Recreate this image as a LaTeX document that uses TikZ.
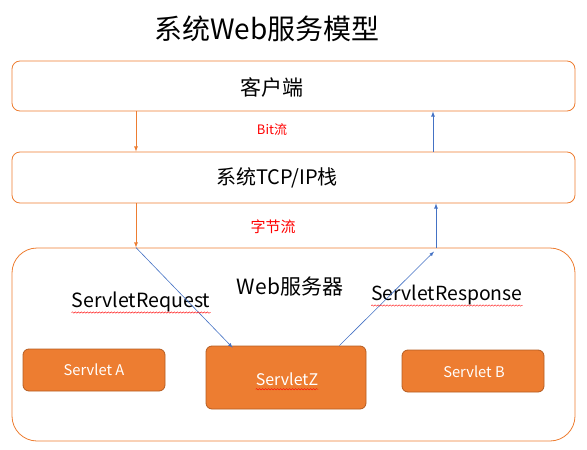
\documentclass[tikz,border=0pt]{standalone}
\usepackage{fontspec}
\setmainfont{Noto Sans CJK SC}
\usetikzlibrary{decorations.pathmorphing}
\definecolor{boxorange}{HTML}{ED7D31}
\definecolor{boxedge}{HTML}{B55D22}
\definecolor{flowblue}{HTML}{4472C4}
\begin{document}
\begin{tikzpicture}[x=1pt, y=-1pt,
            layer/.style={draw=boxorange, line width=0.8pt, rounded corners=8pt, minimum width=563pt, inner sep=0pt},
            servlet/.style={draw=boxedge, line width=0.8pt, fill=boxorange, rounded corners=6pt, inner sep=0pt},
            label/.style={inner sep=0pt},
            down/.style={draw=boxorange, line width=0.8pt, -latex},
            up/.style={draw=flowblue, line width=0.8pt, -latex},
            wavy/.style={draw=red, line width=0.4pt, decorate, decoration={snake, amplitude=0.7pt, segment length=3pt}}
            ]
            \useasboundingbox (0,0) rectangle (587,450);
            \node (title) at (267,29) {\fontsize{28}{32}\selectfont 系统Web服务模型};
            \node[layer, minimum height=50pt] (client) at (293.5,86) {};
            \node[label] (clientname) at (272,87) {\fontsize{21}{24}\selectfont 客户端};
            \node[layer, minimum height=51pt] (tcp) at (293.5,177.5) {};
            \node[label] (tcpname) at (277,178) {\fontsize{20}{24}\selectfont 系统TCP/IP栈};
            \node[layer, minimum height=193pt, rounded corners=25pt] (web) at (293.5,344.5) {};
            \node (bit) at (272,130) {\fontsize{13}{15}\selectfont\color{red} Bit流};
            \node (byte) at (273,227) {\fontsize{15}{18}\selectfont\color{red} 字节流};
            \node (webname) at (290,287) {\fontsize{21}{24}\selectfont Web服务器};

            \node[servlet, minimum width=142pt, minimum height=42pt] (sa) at (94,370) {};
            \node[servlet, minimum width=160pt, minimum height=63pt] (sz) at (286,377.5) {};
            \node[servlet, minimum width=142pt, minimum height=42pt] (sb) at (473,371) {};
            \node[label, text=white] (saname) at (94,370) {\fontsize{14.7}{17}\selectfont Servlet A};
            \node[label, text=white] (szname) at (287,379) {\fontsize{16}{19}\selectfont ServletZ};
            \node[label, text=white] (sbname) at (474,372) {\fontsize{14.7}{17}\selectfont Servlet B};

            \node[label] (req) at (141,302) {\fontsize{19.6}{23}\selectfont ServletRequest};
            \node[label] (resp) at (447,295) {\fontsize{19.4}{23}\selectfont ServletResponse};

            \draw[down] ([xshift=-157.5pt]client.south) -- ([xshift=-157.5pt]tcp.north);
            \draw[up] ([xshift=139.5pt]tcp.north) -- ([xshift=139.5pt]client.south);
            \draw[down] ([xshift=-157.5pt]tcp.south) -- ([xshift=-157.5pt]web.north);
            \draw[up] ([xshift=142.5pt]web.north) -- ([xshift=142.5pt]tcp.south);

            \coordinate (back) at ([xshift=140.5pt,yshift=-4pt]web.north);
            \draw[up, line width=0.6pt] ([xshift=-157.5pt]web.north) -- ([xshift=27pt,yshift=-2pt]sz.north west);
            \draw[up, line width=0.6pt] ([xshift=-27pt]sz.north east) -- (back);

            % spell check marks
            \draw[wavy] ([yshift=-5pt]req.base west) -- ([yshift=-5pt]req.base east);
            \draw[wavy] ([yshift=-5pt]resp.base west) -- ([yshift=-5pt]resp.base east);
            \draw[wavy] ([yshift=-4pt]szname.base west) -- ([yshift=-4pt]szname.base east);
            \end{tikzpicture}
\end{document}
